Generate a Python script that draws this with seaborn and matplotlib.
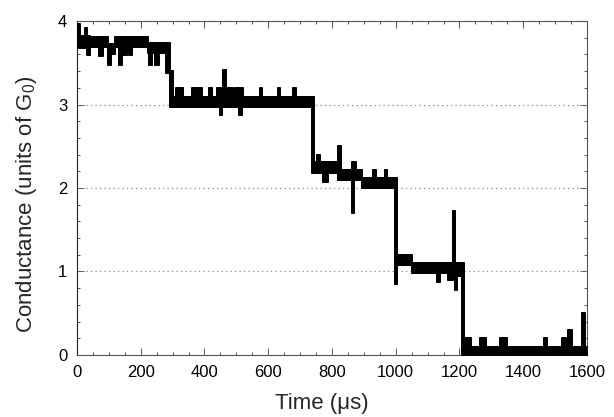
import numpy as np
import pandas as pd
import matplotlib
matplotlib.use("Agg")
import matplotlib.pyplot as plt
from matplotlib.ticker import MultipleLocator
import seaborn as sns

# Conductance trace, stored as runs: start time (us), lower and upper envelope (G0)
seg_start = [0, 8, 25, 31, 41, 69, 81, 97, 107, 119, 132, 141, 145, 157, 164, 172,
             223, 226, 235, 245, 257, 278, 292,
             301, 311, 333, 361, 392, 415, 422, 439, 449, 456, 458, 466, 490, 496, 508, 517,
             520, 574, 580, 632, 638, 678, 686, 738,
             742, 753, 762, 772, 787, 819, 828, 862, 868, 875, 894, 929, 938, 966, 973, 998,
             1003, 1050, 1130, 1140, 1165, 1180, 1185, 1192, 1208,
             1214, 1217, 1235, 1264, 1283, 1327, 1349, 1465, 1475, 1522, 1534, 1540, 1553,
             1584, 1594]
seg_lo = [3.68, 3.68, 3.68, 3.59, 3.69, 3.58, 3.69, 3.47, 3.60, 3.69, 3.47, 3.69, 3.59, 3.69, 3.59, 3.69,
          3.62, 3.47, 3.62, 3.47, 3.62, 3.38, 2.97,
          2.97, 2.97, 2.97, 2.97, 2.97, 2.97, 2.97, 2.97, 2.87, 2.97, 2.97, 2.97, 2.97, 2.97, 2.87, 2.97,
          2.97, 2.97, 2.97, 2.97, 2.97, 2.97, 2.97, 2.18,
          2.18, 2.18, 2.18, 2.07, 2.18, 2.10, 2.10, 1.70, 2.10, 2.10, 2.00, 2.00, 2.00, 2.00, 2.00, 0.85,
          1.08, 0.98, 0.87, 0.98, 0.90, 0.90, 0.78, 0.95, 0.00,
          0.00, 0.00, 0.00, 0.00, 0.00, 0.00, 0.00, 0.00, 0.00, 0.00, 0.00, 0.00, 0.00,
          0.00, 0.00]
seg_hi = [3.97, 3.82, 3.92, 3.82, 3.81, 3.81, 3.81, 3.72, 3.72, 3.81, 3.81, 3.81, 3.81, 3.81, 3.81, 3.81,
          3.74, 3.74, 3.74, 3.74, 3.74, 3.74, 3.40,
          3.09, 3.20, 3.09, 3.20, 3.09, 3.20, 3.09, 3.20, 3.20, 3.20, 3.41, 3.20, 3.09, 3.20, 3.20, 3.20,
          3.09, 3.20, 3.09, 3.20, 3.09, 3.20, 3.09, 3.09,
          2.31, 2.40, 2.31, 2.31, 2.31, 2.50, 2.21, 2.31, 2.31, 2.21, 2.12, 2.21, 2.12, 2.21, 2.12, 2.12,
          1.20, 1.10, 1.10, 1.10, 1.10, 1.72, 1.10, 1.10, 1.10,
          0.09, 0.20, 0.09, 0.20, 0.09, 0.20, 0.09, 0.20, 0.09, 0.20, 0.09, 0.30, 0.09,
          0.50, 0.09]
t_end = 1600

x_ticks = [0, 200, 400, 600, 800, 1000, 1200, 1400, 1600]
y_ticks = [0, 1, 2, 3, 4]

sns.set_theme(style="ticks")
plt.rcParams["font.family"] = ["Liberation Sans", "DejaVu Sans"]
plt.rcParams["mathtext.fontset"] = "custom"
plt.rcParams["mathtext.rm"] = "Liberation Sans"

t = np.array(seg_start + [t_end], dtype=float)
lo = np.array(seg_lo + [seg_lo[-1]])
hi = np.array(seg_hi + [seg_hi[-1]])
df = pd.DataFrame({"time": t, "lo": lo, "hi": hi})

fig = plt.figure(figsize=(6.14, 4.17), dpi=100)
ax = fig.add_axes([0.1254, 0.1487, 0.8306, 0.8009])

# dotted guides at the integer conductance levels
for g in [1, 2, 3]:
    ax.axhline(g, color="#888888", lw=0.9, dashes=(1, 2.6), zorder=1)

ax.fill_between(df["time"], df["lo"], df["hi"], step="post",
                color="black", linewidth=1.3, zorder=3)
sns.lineplot(data=df, x="time", y="hi", drawstyle="steps-post", sort=False,
             estimator=None, color="black", lw=1.3, ax=ax, zorder=3)
sns.lineplot(data=df, x="time", y="lo", drawstyle="steps-post", sort=False,
             estimator=None, color="black", lw=1.3, ax=ax, zorder=3)

ax.set_xlim(0, 1600)
ax.set_ylim(0, 4)
ax.set_xticks(x_ticks)
ax.set_yticks(y_ticks)
ax.set_xticklabels([str(v) for v in x_ticks])
ax.set_yticklabels([str(v) for v in y_ticks])
ax.xaxis.set_minor_locator(MultipleLocator(50))
ax.yaxis.set_minor_locator(MultipleLocator(0.2))
ax.tick_params(which="both", direction="in", top=True, right=True,
               color="#555555", width=0.7)
ax.tick_params(which="major", length=5, labelsize=12, pad=7, labelcolor="black")
ax.tick_params(which="minor", length=2.5)

for side in ["left", "bottom", "top", "right"]:
    ax.spines[side].set_color("#555555")
    ax.spines[side].set_linewidth(0.8)
ax.spines["left"].set_color("#222222")

ax.set_xlabel("Time (μs)", fontsize=16)
ax.set_ylabel(r"Conductance (units of G$_\mathregular{0}$)", fontsize=16)
ax.xaxis.set_label_coords(0.48, -0.115)
ax.yaxis.set_label_coords(-0.075, 0.45)

fig.savefig("out.png", dpi=100)
